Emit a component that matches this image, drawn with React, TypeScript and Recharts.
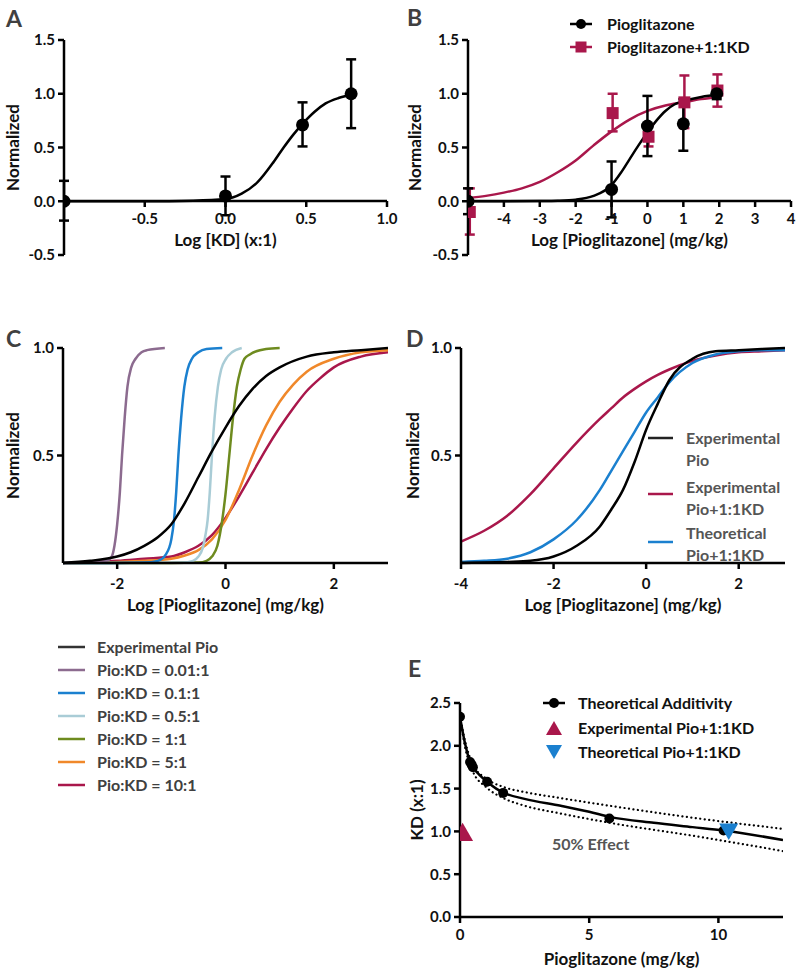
import React from "react";
import { ComposedChart, Line, Scatter, ErrorBar, XAxis, YAxis } from "recharts";

const FONT = "Lato, 'Open Sans', sans-serif";
const RED = "#a9174b";
const BLUE = "#1b80cf";
const GREY = "#404040";

// Panel A: Log [KD]
const aXTicks = [-0.5, 0, 0.5, 1.0];
const aYTicks = [-0.5, 0, 0.5, 1.0, 1.5];
const aCurveX = [-1, -0.5, -0.2, 0, 0.1, 0.2, 0.3, 0.36, 0.42, 0.477, 0.55, 0.62, 0.7, 0.778];
const aCurveY = [0, 0, 0.005, 0.02, 0.07, 0.18, 0.37, 0.5, 0.62, 0.72, 0.83, 0.91, 0.96, 0.99];
const aPtX = [-1, 0, 0.477, 0.778];
const aPtY = [0, 0.05, 0.71, 1.0];
const aPtLo = [-0.18, -0.13, 0.51, 0.68];
const aPtHi = [0.19, 0.23, 0.92, 1.32];

// Panel B: Pioglitazone alone vs +1:1KD
const bXTicks = [-4, -3, -2, -1, 0, 1, 2, 3, 4];
const bPioCurveX = [-5, -4, -3, -2.5, -2, -1.5, -1, -0.75, -0.5, -0.25, 0, 0.25, 0.5, 0.75, 1, 1.5, 2];
const bPioCurveY = [0, 0, 0.002, 0.005, 0.015, 0.05, 0.15, 0.26, 0.39, 0.52, 0.64, 0.75, 0.84, 0.9, 0.93, 0.97, 0.99];
const bKdCurveX = [-5, -4.5, -4, -3.5, -3, -2.5, -2, -1.5, -1, -0.5, 0, 0.5, 1, 1.5, 2];
const bKdCurveY = [0.03, 0.05, 0.08, 0.12, 0.18, 0.27, 0.38, 0.52, 0.65, 0.76, 0.84, 0.89, 0.92, 0.95, 0.97];
const bPioX = [-5, -1, 0, 1, 1.93];
const bPioY = [0, 0.11, 0.7, 0.72, 1.0];
const bPioLo = [-0.12, -0.15, 0.42, 0.47, 0.95];
const bPioHi = [0.12, 0.37, 0.98, 0.95, 1.0];
const bKdX = [-4.95, -0.97, 0.03, 1.03, 1.95];
const bKdY = [-0.1, 0.82, 0.6, 0.92, 1.03];
const bKdLo = [-0.31, 0.65, 0.51, 0.68, 0.88];
const bKdHi = [0.12, 1.0, 0.71, 1.17, 1.18];
const bLegend = ["Pioglitazone", "Pioglitazone+1:1KD"];

// Panel C: Pio:KD ratios
const cXTicks = [-2, 0, 2];
const cYTicks = [0.5, 1.0];
const cNames = ["Experimental Pio", "Pio:KD = 0.01:1", "Pio:KD = 0.1:1", "Pio:KD = 0.5:1", "Pio:KD = 1:1", "Pio:KD = 5:1", "Pio:KD = 10:1"];
const cColors = ["#000000", "#8c6b8f", "#1b80cf", "#a9ccd6", "#6e8b1f", "#f0882a", "#a9174b"];
const cExpX = [-3, -2.5, -2, -1.75, -1.5, -1.25, -1, -0.75, -0.5, -0.25, 0, 0.25, 0.5, 0.75, 1, 1.5, 2, 2.5, 3];
const cExpY = [0, 0.01, 0.03, 0.05, 0.08, 0.12, 0.18, 0.28, 0.4, 0.52, 0.63, 0.73, 0.81, 0.87, 0.91, 0.96, 0.98, 0.99, 1.0];
const c001X = [-3, -2.5, -2.2, -2.1, -2.05, -2.0, -1.95, -1.91, -1.86, -1.81, -1.74, -1.66, -1.55, -1.45, -1.12];
const c001Y = [0, 0.002, 0.01, 0.03, 0.08, 0.18, 0.33, 0.5, 0.68, 0.82, 0.91, 0.95, 0.98, 0.99, 1.0];
const c01X = [-3, -2, -1.5, -1.25, -1.1, -1.0, -0.95, -0.91, -0.87, -0.82, -0.76, -0.7, -0.62, -0.5, -0.35, -0.06];
const c01Y = [0, 0, 0.002, 0.01, 0.04, 0.11, 0.2, 0.33, 0.5, 0.67, 0.82, 0.9, 0.95, 0.98, 0.995, 1.0];
const c05X = [-3, -1.5, -0.8, -0.6, -0.5, -0.42, -0.37, -0.33, -0.29, -0.25, -0.2, -0.14, -0.08, 0.01, 0.12, 0.3];
const c05Y = [0, 0, 0.002, 0.01, 0.03, 0.07, 0.13, 0.2, 0.33, 0.5, 0.68, 0.82, 0.9, 0.95, 0.98, 1.0];
const c1X = [-3, -1, -0.5, -0.35, -0.25, -0.15, -0.06, 0.0, 0.07, 0.14, 0.21, 0.28, 0.35, 0.45, 0.57, 0.75, 1.0];
const c1Y = [0, 0, 0.002, 0.01, 0.03, 0.08, 0.2, 0.32, 0.5, 0.68, 0.82, 0.9, 0.95, 0.97, 0.985, 0.995, 1.0];
const c5X = [-3, -2, -1.5, -1, -0.75, -0.5, -0.25, 0, 0.25, 0.5, 0.75, 1, 1.25, 1.5, 2, 2.5, 3];
const c5Y = [0, 0.005, 0.01, 0.02, 0.035, 0.06, 0.11, 0.2, 0.34, 0.5, 0.64, 0.75, 0.83, 0.89, 0.95, 0.98, 0.99];
const c10X = [-3, -2, -1.5, -1, -0.75, -0.5, -0.25, 0, 0.25, 0.5, 0.75, 1, 1.25, 1.5, 1.75, 2, 2.5, 3];
const c10Y = [0, 0.01, 0.02, 0.03, 0.05, 0.08, 0.13, 0.21, 0.31, 0.42, 0.53, 0.63, 0.72, 0.8, 0.86, 0.91, 0.96, 0.98];

// Panel D: experimental vs theoretical
const dXTicks = [-4, -2, 0, 2];
const dNames = [["Experimental", "Pio"], ["Experimental", "Pio+1:1KD"], ["Theoretical", "Pio+1:1KD"]];
const dColors = ["#000000", RED, BLUE];
const dX = [-4, -3.5, -3, -2.5, -2, -1.5, -1, -0.75, -0.5, -0.25, 0, 0.25, 0.5, 1, 1.5, 2, 2.5, 3];
const dExpY = [0, 0.002, 0.005, 0.01, 0.03, 0.08, 0.17, 0.25, 0.34, 0.47, 0.62, 0.74, 0.85, 0.95, 0.985, 0.99, 0.995, 1.0];
const dKdY = [0.1, 0.15, 0.22, 0.32, 0.44, 0.56, 0.67, 0.72, 0.77, 0.81, 0.845, 0.875, 0.9, 0.94, 0.965, 0.98, 0.985, 0.99];
const dTheoY = [0.005, 0.01, 0.02, 0.05, 0.11, 0.2, 0.34, 0.43, 0.52, 0.61, 0.7, 0.77, 0.84, 0.93, 0.97, 0.985, 0.99, 0.99];

// Panel E: isobologram
const eXTicks = [0, 5, 10];
const eYTicks = [0, 0.5, 1.0, 1.5, 2.0, 2.5];
const eLineX = [0, 0.1, 0.2, 0.3, 0.4, 0.5, 0.75, 1.05, 1.4, 1.7, 2.5, 3.9, 5, 5.8, 7.5, 9, 10.2, 12.5];
const eLineY = [2.34, 2.17, 2.02, 1.9, 1.81, 1.75, 1.66, 1.58, 1.5, 1.45, 1.38, 1.3, 1.23, 1.17, 1.1, 1.05, 1.01, 0.9];
const eUpX = [0, 0.2, 0.5, 1.0, 1.67, 2.5, 3.88, 6, 9, 12.5];
const eUpY = [2.34, 2.05, 1.78, 1.62, 1.52, 1.46, 1.39, 1.29, 1.16, 1.03];
const eLowX = [0, 0.2, 0.5, 1.0, 1.67, 2.5, 3.88, 6, 9, 12.5];
const eLowY = [2.34, 1.98, 1.7, 1.52, 1.39, 1.3, 1.21, 1.09, 0.95, 0.77];
const ePtX = [0, 0.39, 0.45, 0.5, 1.05, 1.67, 5.78, 10.2];
const ePtY = [2.34, 1.81, 1.78, 1.75, 1.58, 1.45, 1.15, 1.01];
const eExpX = [0.1];
const eExpY = [0.99];
const eTheoX = [10.4];
const eTheoY = [1.0];
const eLegend = ["Theoretical Additivity", "Experimental Pio+1:1KD", "Theoretical Pio+1:1KD"];

const toPts = (xs: number[], ys: number[]) => xs.map((x, i) => ({ x, y: ys[i] }));
const toErr = (xs: number[], ys: number[], lo: number[], hi: number[]) =>
  xs.map((x, i) => ({ x, y: ys[i], err: [ys[i] - lo[i], hi[i] - ys[i]] }));

const tickStyle = { fontFamily: FONT, fontWeight: 700, fontSize: 15, fill: "#111" };
const titleStyle = { fontFamily: FONT, fontWeight: 700, fontSize: 17, fill: "#111" };
const axisLine = { stroke: "#000", strokeWidth: 2.5 };
const fmt1 = (v: number) => v.toFixed(1);

const Dot = (r: number, fill: string) => (p: any) => <circle cx={p.cx} cy={p.cy} r={r} fill={fill} />;
const Sq = (s: number, fill: string) => (p: any) => <rect x={p.cx - s / 2} y={p.cy - s / 2} width={s} height={s} fill={fill} />;
const TriUp = (w: number, fill: string) => (p: any) => (
  <polygon points={`${p.cx - w / 2},${p.cy + w * 0.42} ${p.cx + w / 2},${p.cy + w * 0.42} ${p.cx},${p.cy - w * 0.45}`} fill={fill} />
);
const TriDown = (w: number, fill: string) => (p: any) => (
  <polygon points={`${p.cx - w / 2},${p.cy - w * 0.42} ${p.cx + w / 2},${p.cy - w * 0.42} ${p.cx},${p.cy + w * 0.45}`} fill={fill} />
);

const Abs = ({ left, top, children }: { left: number; top: number; children: React.ReactNode }) => (
  <div style={{ position: "absolute", left, top }}>{children}</div>
);

const Letter = ({ x, y, t }: { x: number; y: number; t: string }) => (
  <div style={{ position: "absolute", left: x, top: y, fontFamily: FONT, fontWeight: 700, fontSize: 23, color: GREY, lineHeight: "23px" }}>{t}</div>
);

const Txt = ({ x, y, t, color = "#111", size = 16 }: { x: number; y: number; t: string; color?: string; size?: number }) => (
  <div style={{ position: "absolute", left: x, top: y - 10, height: 20, lineHeight: "20px", fontFamily: FONT, fontWeight: 700, fontSize: size, color, whiteSpace: "nowrap" }}>{t}</div>
);

const Swatch = ({ x1, x2, y, color, marker }: { x1: number; x2: number; y: number; color: string; marker?: string }) => {
  const cx = (x1 + x2) / 2;
  return (
    <svg style={{ position: "absolute", left: 0, top: 0, overflow: "visible" }} width={1} height={1}>
      {x2 > x1 && <line x1={x1} x2={x2} y1={y} y2={y} stroke={color} strokeWidth={2.5} />}
      {marker === "circle" && <circle cx={cx} cy={y} r={5} fill={color} />}
      {marker === "square" && <rect x={cx - 5.5} y={y - 5.5} width={11} height={11} fill={color} />}
      {marker === "up" && <polygon points={`${cx - 8},${y + 7} ${cx + 8},${y + 7} ${cx},${y - 7}`} fill={color} />}
      {marker === "down" && <polygon points={`${cx - 8},${y - 7} ${cx + 8},${y - 7} ${cx},${y + 7}`} fill={color} />}
    </svg>
  );
};

// x axis drawn through y = 0 (A and B): a second chart whose plot bottom sits on the zero line
function XOverlay({ left, width, plotLeft, plotRight, plotTop, axisY, domain, ticks, title, fmt, pts }: any) {
  const h = axisY + 59;
  return (
    <Abs left={left} top={0}>
      <ComposedChart width={width} height={h} margin={{ top: plotTop, right: width - plotRight, bottom: 0, left: plotLeft }}>
        <XAxis
          type="number"
          dataKey="x"
          domain={domain}
          ticks={ticks}
          allowDataOverflow
          height={59}
          axisLine={axisLine}
          tickLine={axisLine}
          tickSize={6}
          tickMargin={6}
          tick={tickStyle}
          tickFormatter={fmt}
          label={{ value: title, position: "insideBottom", offset: 14, style: titleStyle }}
        />
        <YAxis hide domain={[0, 1.5]} allowDataOverflow />
        <Line data={pts} dataKey="y" stroke="transparent" dot={false} activeDot={false} isAnimationActive={false} />
      </ComposedChart>
    </Abs>
  );
}

export default function App() {
  return (
    <div style={{ position: "absolute", left: 0, top: 0, width: 800, height: 973, background: "#fff" }}>
      {/* A */}
      <Abs left={0} top={0}>
        <ComposedChart width={400} height={280} margin={{ top: 40, right: 13, bottom: 25, left: 0 }}>
          <XAxis type="number" dataKey="x" domain={[-1, 1]} hide allowDataOverflow />
          <YAxis
            type="number"
            domain={[-0.5, 1.5]}
            ticks={aYTicks}
            width={64}
            axisLine={axisLine}
            tickLine={axisLine}
            tickSize={6}
            tickMargin={3}
            tick={tickStyle}
            tickFormatter={fmt1}
            label={{ value: "Normalized", angle: -90, position: "insideLeft", offset: 13, style: { ...titleStyle, textAnchor: "middle" } }}
          />
          <Line data={toPts(aCurveX, aCurveY)} dataKey="y" type="monotone" dot={false} stroke="#000" strokeWidth={2.5} isAnimationActive={false} />
          <Scatter data={toErr(aPtX, aPtY, aPtLo, aPtHi)} dataKey="y" shape={Dot(6.5, "#000")} isAnimationActive={false}>
            <ErrorBar dataKey="err" direction="y" width={5} stroke="#000" strokeWidth={2.5} />
          </Scatter>
        </ComposedChart>
      </Abs>
      <XOverlay left={0} width={400} plotLeft={64} plotRight={387} plotTop={40} axisY={201} domain={[-1, 1]} ticks={aXTicks} title="Log [KD] (x:1)" fmt={fmt1} pts={toPts(aPtX, aPtY)} />

      {/* B */}
      <Abs left={400} top={0}>
        <ComposedChart width={400} height={280} margin={{ top: 40, right: 9, bottom: 25, left: 0 }}>
          <XAxis type="number" dataKey="x" domain={[-5, 4]} hide allowDataOverflow />
          <YAxis
            type="number"
            domain={[-0.5, 1.5]}
            ticks={aYTicks}
            width={68}
            axisLine={axisLine}
            tickLine={axisLine}
            tickSize={6}
            tickMargin={3}
            tick={tickStyle}
            tickFormatter={fmt1}
            label={{ value: "Normalized", angle: -90, position: "insideLeft", offset: 15, style: { ...titleStyle, textAnchor: "middle" } }}
          />
          <Line data={toPts(bKdCurveX, bKdCurveY)} dataKey="y" type="monotone" dot={false} stroke={RED} strokeWidth={2.5} isAnimationActive={false} />
          <Line data={toPts(bPioCurveX, bPioCurveY)} dataKey="y" type="monotone" dot={false} stroke="#000" strokeWidth={2.5} isAnimationActive={false} />
          <Scatter data={toErr(bKdX, bKdY, bKdLo, bKdHi)} dataKey="y" shape={Sq(12, RED)} isAnimationActive={false}>
            <ErrorBar dataKey="err" direction="y" width={5} stroke={RED} strokeWidth={2.5} />
          </Scatter>
          <Scatter data={toErr(bPioX, bPioY, bPioLo, bPioHi)} dataKey="y" shape={Dot(6.5, "#000")} isAnimationActive={false}>
            <ErrorBar dataKey="err" direction="y" width={5} stroke="#000" strokeWidth={2.5} />
          </Scatter>
        </ComposedChart>
      </Abs>
      <XOverlay left={400} width={400} plotLeft={68} plotRight={391} plotTop={40} axisY={201} domain={[-5, 4]} ticks={bXTicks} title="Log [Pioglitazone] (mg/kg)" fmt={(v: number) => String(v)} pts={toPts(bPioX, bPioY)} />
      <Swatch x1={570} x2={592} y={24} color="#000" marker="circle" />
      <Txt x={607} y={24} t={bLegend[0]} />
      <Swatch x1={570} x2={592} y={47} color={RED} marker="square" />
      <Txt x={607} y={47} t={bLegend[1]} />

      {/* C */}
      <Abs left={0} top={320}>
        <ComposedChart width={400} height={300} margin={{ top: 28, right: 12, bottom: 0, left: 0 }}>
          <XAxis
            type="number"
            dataKey="x"
            domain={[-3, 3]}
            ticks={cXTicks}
            allowDataOverflow
            height={57}
            axisLine={axisLine}
            tickLine={axisLine}
            tickSize={6}
            tickMargin={9}
            tick={tickStyle}
            label={{ value: "Log [Pioglitazone] (mg/kg)", position: "insideBottom", offset: 9, style: titleStyle }}
          />
          <YAxis
            type="number"
            domain={[0, 1]}
            ticks={cYTicks}
            width={63}
            axisLine={axisLine}
            tickLine={axisLine}
            tickSize={6}
            tickMargin={3}
            tick={tickStyle}
            tickFormatter={fmt1}
            label={{ value: "Normalized", angle: -90, position: "insideLeft", offset: 13, style: { ...titleStyle, textAnchor: "middle" } }}
          />
          <Line data={toPts(c10X, c10Y)} dataKey="y" type="monotone" dot={false} stroke={cColors[6]} strokeWidth={2.5} isAnimationActive={false} />
          <Line data={toPts(c5X, c5Y)} dataKey="y" type="monotone" dot={false} stroke={cColors[5]} strokeWidth={2.5} isAnimationActive={false} />
          <Line data={toPts(c1X, c1Y)} dataKey="y" type="monotone" dot={false} stroke={cColors[4]} strokeWidth={2.5} isAnimationActive={false} />
          <Line data={toPts(c05X, c05Y)} dataKey="y" type="monotone" dot={false} stroke={cColors[3]} strokeWidth={2.5} isAnimationActive={false} />
          <Line data={toPts(c01X, c01Y)} dataKey="y" type="monotone" dot={false} stroke={cColors[2]} strokeWidth={2.5} isAnimationActive={false} />
          <Line data={toPts(c001X, c001Y)} dataKey="y" type="monotone" dot={false} stroke={cColors[1]} strokeWidth={2.5} isAnimationActive={false} />
          <Line data={toPts(cExpX, cExpY)} dataKey="y" type="monotone" dot={false} stroke={cColors[0]} strokeWidth={2.5} isAnimationActive={false} />
        </ComposedChart>
      </Abs>
      {cNames.map((n, i) => (
        <React.Fragment key={n}>
          <Swatch x1={58} x2={85} y={647 + i * 23} color={i === 0 ? "#333" : cColors[i]} />
          <Txt x={97} y={647 + i * 23} t={n} color={GREY} />
        </React.Fragment>
      ))}

      {/* D */}
      <Abs left={400} top={320}>
        <ComposedChart width={400} height={300} margin={{ top: 28, right: 15, bottom: 0, left: 0 }}>
          <XAxis
            type="number"
            dataKey="x"
            domain={[-4, 3]}
            ticks={dXTicks}
            allowDataOverflow
            height={57}
            axisLine={axisLine}
            tickLine={axisLine}
            tickSize={6}
            tickMargin={9}
            tick={tickStyle}
            label={{ value: "Log [Pioglitazone] (mg/kg)", position: "insideBottom", offset: 9, style: titleStyle }}
          />
          <YAxis
            type="number"
            domain={[0, 1]}
            ticks={cYTicks}
            width={61}
            axisLine={axisLine}
            tickLine={axisLine}
            tickSize={6}
            tickMargin={3}
            tick={tickStyle}
            tickFormatter={fmt1}
            label={{ value: "Normalized", angle: -90, position: "insideLeft", offset: 13, style: { ...titleStyle, textAnchor: "middle" } }}
          />
          <Line data={toPts(dX, dKdY)} dataKey="y" type="monotone" dot={false} stroke={dColors[1]} strokeWidth={2.5} isAnimationActive={false} />
          <Line data={toPts(dX, dTheoY)} dataKey="y" type="monotone" dot={false} stroke={dColors[2]} strokeWidth={2.5} isAnimationActive={false} />
          <Line data={toPts(dX, dExpY)} dataKey="y" type="monotone" dot={false} stroke={dColors[0]} strokeWidth={2.5} isAnimationActive={false} />
        </ComposedChart>
      </Abs>
      <Swatch x1={648} x2={673} y={438} color="#222" />
      <Txt x={686} y={438} t={dNames[0][0]} color="#555" />
      <Txt x={686} y={460} t={dNames[0][1]} color="#555" />
      <Swatch x1={648} x2={673} y={494} color={RED} />
      <Txt x={686} y={487} t={dNames[1][0]} color="#555" />
      <Txt x={686} y={509} t={dNames[1][1]} color="#555" />
      <Swatch x1={648} x2={673} y={542} color={BLUE} />
      <Txt x={686} y={533} t={dNames[2][0]} color="#555" />
      <Txt x={686} y={555} t={dNames[2][1]} color="#555" />

      {/* E */}
      <Abs left={400} top={620}>
        <ComposedChart width={400} height={353} margin={{ top: 83, right: 17, bottom: 0, left: 0 }}>
          <XAxis
            type="number"
            dataKey="x"
            domain={[0, 12.5]}
            ticks={eXTicks}
            allowDataOverflow
            height={56}
            axisLine={axisLine}
            tickLine={axisLine}
            tickSize={6}
            tickMargin={6}
            tick={tickStyle}
            label={{ value: "Pioglitazone (mg/kg)", position: "insideBottom", offset: 8, style: titleStyle }}
          />
          <YAxis
            type="number"
            domain={[0, 2.5]}
            ticks={eYTicks}
            width={60}
            axisLine={axisLine}
            tickLine={axisLine}
            tickSize={6}
            tickMargin={3}
            tick={tickStyle}
            tickFormatter={fmt1}
            label={{ value: "KD (x:1)", angle: -90, position: "insideLeft", offset: 17, style: { ...titleStyle, textAnchor: "middle" } }}
          />
          <Line data={toPts(eUpX, eUpY)} dataKey="y" type="monotone" dot={false} stroke="#000" strokeWidth={2.2} strokeDasharray="0.1 4.4" strokeLinecap="round" isAnimationActive={false} />
          <Line data={toPts(eLowX, eLowY)} dataKey="y" type="monotone" dot={false} stroke="#000" strokeWidth={2.2} strokeDasharray="0.1 4.4" strokeLinecap="round" isAnimationActive={false} />
          <Line data={toPts(eLineX, eLineY)} dataKey="y" type="monotone" dot={false} stroke="#000" strokeWidth={2.5} isAnimationActive={false} />
          <Scatter data={toPts(ePtX, ePtY)} dataKey="y" shape={Dot(5, "#000")} isAnimationActive={false} />
          <Scatter data={toPts(eExpX, eExpY)} dataKey="y" shape={TriUp(21, RED)} isAnimationActive={false} />
          <Scatter data={toPts(eTheoX, eTheoY)} dataKey="y" shape={TriDown(19, BLUE)} isAnimationActive={false} />
        </ComposedChart>
      </Abs>
      <Swatch x1={543} x2={565} y={703} color="#000" marker="circle" />
      <Txt x={578} y={703} t={eLegend[0]} />
      <Swatch x1={554} x2={554} y={728} color={RED} marker="up" />
      <Txt x={578} y={728} t={eLegend[1]} />
      <Swatch x1={554} x2={554} y={752} color={BLUE} marker="down" />
      <Txt x={578} y={752} t={eLegend[2]} />
      <Txt x={552} y={844} t="50% Effect" color="#555" />

      <Letter x={6} y={7} t="A" />
      <Letter x={407} y={6} t="B" />
      <Letter x={6} y={327} t="C" />
      <Letter x={406} y={327} t="D" />
      <Letter x={408} y={657} t="E" />
    </div>
  );
}
